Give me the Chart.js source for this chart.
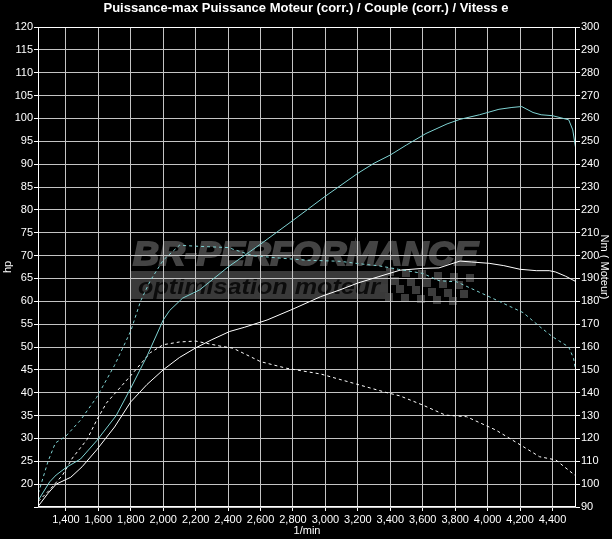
<!DOCTYPE html>
<html>
<head>
<meta charset="utf-8">
<script src="https://cdn.jsdelivr.net/npm/chart.js@4.4.1/dist/chart.umd.min.js"></script>
<style>
    html, body { margin: 0; padding: 0; background: #000; }
    canvas { display: block; }
</style>
</head>
<body>
<canvas id="dynoChart" width="612" height="539"></canvas>
<script>
const chartTitle = 'Puissance-max Puissance Moteur (corr.) / Couple (corr.) / Vitess e';

const xTicks = [1400, 1600, 1800, 2000, 2200, 2400, 2600, 2800, 3000, 3200, 3400, 3600, 3800, 4000, 4200, 4400];

// tuned run - power (hp)
const rpmPowerMod = [1230, 1300, 1340, 1400, 1490, 1590, 1710, 1800, 1900, 2000, 2040, 2120, 2225, 2400, 2600, 2800, 3000, 3200, 3300, 3400, 3500, 3620, 3750, 3830, 3950, 4070, 4150, 4210, 4280, 4330, 4400, 4500, 4525, 4545];
const powerMod = [16.5, 20.5, 22, 23.6, 25.5, 29.5, 35, 41, 48, 55.9, 58, 60.7, 62.5, 67.5, 72.5, 77.7, 83, 88, 90.2, 92, 94.2, 96.7, 98.8, 99.8, 100.8, 102, 102.4, 102.6, 101.3, 100.8, 100.6, 99.7, 97.5, 93];

// tuned run - torque (Nm)
const rpmTorqueMod = [1230, 1290, 1335, 1400, 1490, 1590, 1700, 1800, 1860, 1920, 2000, 2100, 2230, 2400, 2550, 2700, 2880, 3090, 3200, 3330, 3450, 3600, 3700, 3810, 4010, 4100, 4220, 4320, 4400, 4500, 4530, 4545];
const torqueMod = [96, 110, 118, 121, 128, 138, 152, 167, 180, 189, 198, 204.5, 204, 203.5, 200, 199, 198, 197.5, 196.5, 195.5, 194, 192.2, 189, 188.5, 182, 179, 175, 169, 164.5, 160, 155, 149];

// stock run - power (hp)
const rpmPowerStock = [1230, 1290, 1340, 1430, 1500, 1590, 1700, 1800, 1900, 2000, 2100, 2200, 2300, 2410, 2500, 2640, 2800, 2970, 3090, 3200, 3330, 3460, 3600, 3700, 3830, 3900, 4010, 4100, 4200, 4300, 4380, 4420, 4480, 4545];
const powerStock = [15.2, 18, 20, 21.5, 23.8, 27.5, 32.5, 38, 41.8, 45, 47.7, 49.8, 51.6, 53.4, 54.3, 55.9, 58.3, 61, 62.5, 64, 65.4, 66.8, 67.2, 67.3, 68.8, 68.6, 68.3, 67.8, 67, 66.7, 66.7, 66.4, 65.5, 64.3];

// stock run - torque (Nm)
const rpmTorqueStock = [1230, 1300, 1380, 1440, 1530, 1590, 1650, 1800, 1920, 2000, 2100, 2200, 2350, 2430, 2600, 2760, 2970, 3170, 3380, 3460, 3600, 3740, 3870, 4050, 4220, 4320, 4420, 4545];
const torqueStock = [92.5, 97.5, 104, 111.4, 119.5, 128, 135.5, 147.5, 157.5, 161, 162.2, 162.6, 160.4, 159.5, 153.6, 150.7, 148.2, 144.2, 140, 138.6, 134.6, 130.2, 129.5, 123.7, 116.4, 112, 110.6, 103.5];

const FONT = '"Liberation Sans", Arial, sans-serif';
const CYAN = '#7fd3d3';
const GRID = '#c4c4c4';

function toPoints(xs, ys) {
    return xs.map((x, i) => ({ x: x, y: ys[i] }));
}

const watermarkPlugin = {
    id: 'watermark',
    beforeDraw(chart) {
        const ctx = chart.ctx;
        ctx.save();
        ctx.fillStyle = '#000';
        ctx.fillRect(0, 0, chart.width, chart.height);

        // band behind "optimisation moteur"
        ctx.fillStyle = '#393939';
        ctx.fillRect(130, 271, 258, 28);

        // checkered flag
        ctx.fillStyle = '#3c3c3c';
        for (let r = 0; r < 4; r++) {
            for (let c = 0; c < 11; c++) {
                if ((r + c) % 2 === 0) {
                    const x = 386 + c * 8 - r * 3;
                    const y = 268 + r * 8 + Math.round(c * 0.6);
                    ctx.fillRect(x, y, 8, 8);
                }
            }
        }

        ctx.font = 'italic bold 34px ' + FONT;
        ctx.fillStyle = '#444444';
        ctx.strokeStyle = '#444444';
        ctx.lineWidth = 2;
        const big = 'BR-PERFORMANCE';
        const w1 = ctx.measureText(big).width;
        ctx.save();
        ctx.translate(133, 265);
        ctx.scale(345 / w1, 1);
        ctx.fillText(big, 0, 0);
        ctx.strokeText(big, 0, 0);
        ctx.restore();

        ctx.font = 'italic bold 22px ' + FONT;
        ctx.fillStyle = '#0c0c0c';
        const small = 'optimisation moteur';
        const w2 = ctx.measureText(small).width;
        ctx.save();
        ctx.translate(138, 294);
        ctx.scale(242 / w2, 1);
        ctx.fillText(small, 0, 0);
        ctx.restore();

        ctx.restore();
    },
    afterDraw(chart) {
        const { ctx, chartArea } = chart;
        ctx.save();
        ctx.strokeStyle = '#ffffff';
        ctx.lineWidth = 1;
        ctx.strokeRect(Math.round(chartArea.left) + 0.5, Math.round(chartArea.top) + 0.5,
            Math.round(chartArea.right - chartArea.left) - 1, Math.round(chartArea.bottom - chartArea.top) - 1);
        ctx.restore();
    }
};

const ctx = document.getElementById('dynoChart').getContext('2d');

new Chart(ctx, {
    type: 'line',
    data: {
        datasets: [
            {
                label: 'Puissance Moteur (corr.)',
                data: toPoints(rpmPowerMod, powerMod),
                yAxisID: 'yHp',
                borderColor: CYAN,
                borderWidth: 1,
                pointRadius: 0
            },
            {
                label: 'Couple (corr.)',
                data: toPoints(rpmTorqueMod, torqueMod),
                yAxisID: 'yNm',
                borderColor: CYAN,
                borderWidth: 1,
                borderDash: [3, 3],
                pointRadius: 0
            },
            {
                label: 'Puissance Moteur (série)',
                data: toPoints(rpmPowerStock, powerStock),
                yAxisID: 'yHp',
                borderColor: '#ffffff',
                borderWidth: 1,
                pointRadius: 0
            },
            {
                label: 'Couple (série)',
                data: toPoints(rpmTorqueStock, torqueStock),
                yAxisID: 'yNm',
                borderColor: '#ffffff',
                borderWidth: 1,
                borderDash: [3, 3],
                pointRadius: 0
            }
        ]
    },
    options: {
        responsive: false,
        animation: false,
        layout: { padding: 0 },
        plugins: {
            legend: { display: false },
            tooltip: { enabled: false },
            title: {
                display: true,
                text: chartTitle,
                color: '#ffffff',
                font: { family: FONT, size: 13, weight: 'bold' },
                padding: { top: 1, bottom: 10.4 }
            }
        },
        scales: {
            x: {
                type: 'linear',
                min: 1228,
                max: 4545,
                afterBuildTicks: (scale) => {
                    scale.ticks = xTicks.map(v => ({ value: v }));
                },
                afterFit: (scale) => { scale.height = 32; },
                ticks: {
                    color: '#ffffff',
                    font: { family: FONT, size: 11 },
                    padding: 2,
                    maxRotation: 0,
                    callback: (v) => v.toLocaleString('en-US')
                },
                grid: {
                    color: GRID,
                    borderDash: [4, 3],
                    tickColor: '#ffffff',
                    tickBorderDash: [],
                    tickLength: 4
                },
                border: { display: false },
                title: {
                    display: true,
                    text: '1/min',
                    color: '#ffffff',
                    font: { family: FONT, size: 11 },
                    padding: { top: 0, bottom: 1 }
                }
            },
            yHp: {
                type: 'linear',
                position: 'left',
                min: 15,
                max: 120,
                afterFit: (scale) => { scale.width = 38; },
                ticks: {
                    stepSize: 5,
                    color: '#ffffff',
                    font: { family: FONT, size: 11 },
                    padding: 1,
                    callback: (v) => (v === 15 ? '' : v)
                },
                grid: {
                    color: GRID,
                    borderDash: [4, 3],
                    tickColor: '#ffffff',
                    tickBorderDash: [],
                    tickLength: 4
                },
                border: { display: false },
                title: {
                    display: true,
                    text: 'hp',
                    color: '#ffffff',
                    font: { family: FONT, size: 11 },
                    padding: 1
                }
            },
            yNm: {
                type: 'linear',
                position: 'right',
                min: 90,
                max: 300,
                afterFit: (scale) => { scale.width = 36; },
                ticks: {
                    stepSize: 10,
                    color: '#ffffff',
                    font: { family: FONT, size: 11 },
                    padding: 1
                },
                grid: {
                    drawOnChartArea: false,
                    tickColor: '#ffffff',
                    tickLength: 4
                },
                border: { display: false },
                title: {
                    display: true,
                    text: 'Nm ( Moteur)',
                    color: '#ffffff',
                    font: { family: FONT, size: 11 },
                    padding: 1
                }
            }
        }
    },
    plugins: [watermarkPlugin]
});
</script>
</body>
</html>
